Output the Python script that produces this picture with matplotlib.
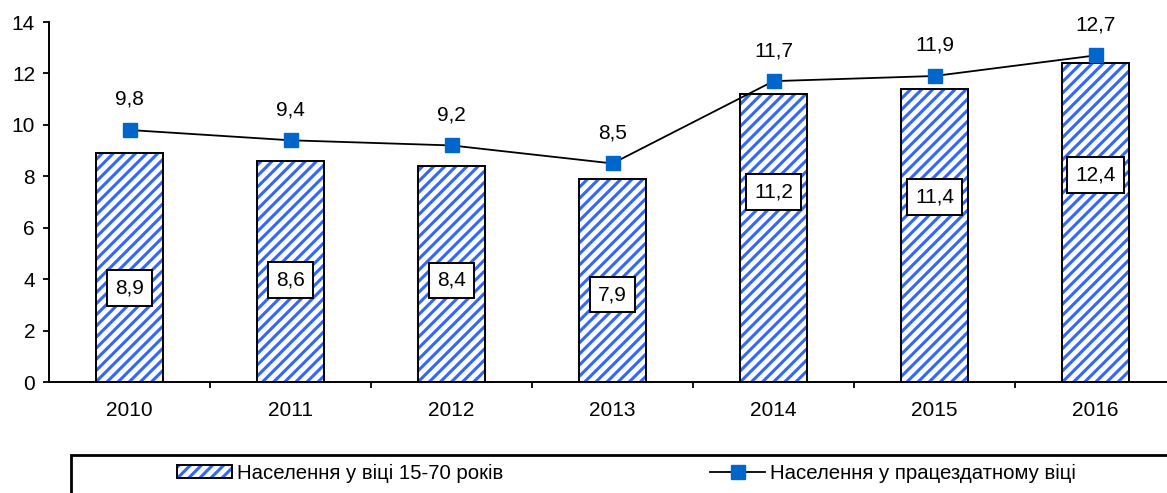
import matplotlib
matplotlib.use("Agg")
import matplotlib.pyplot as plt
from matplotlib.patches import Rectangle
from matplotlib.lines import Line2D
from matplotlib.ticker import FixedLocator

years = ["2010", "2011", "2012", "2013", "2014", "2015", "2016"]
pop_15_70 = [8.9, 8.6, 8.4, 7.9, 11.2, 11.4, 12.4]
pop_working = [9.8, 9.4, 9.2, 8.5, 11.7, 11.9, 12.7]
bar_name = "Населення у віці 15-70 років"
line_name = "Населення у працездатному віці"

# де стоять підписи в стовпчиках (частка висоти стовпчика)
label_frac = [0.41, 0.46, 0.47, 0.43, 0.66, 0.63, 0.65]

plt.rcParams['font.family'] = ['Liberation Sans', 'DejaVu Sans']
plt.rcParams['font.size'] = 15
plt.rcParams['hatch.linewidth'] = 2.2

fig = plt.figure(figsize=(11.67, 4.93), dpi=100)
ax = fig.add_axes([49 / 1167, 1 - 382 / 493, 1127 / 1167, 360 / 493])

x = list(range(len(years)))
blue = '#3366ff'
mblue = '#0066cc'
ax.bar(x, pop_15_70, width=0.41, color='white', edgecolor=blue, hatch='///', linewidth=0, zorder=2)
ax.bar(x, pop_15_70, width=0.41, fill=False, edgecolor='black', linewidth=1.4, zorder=3)

ax.plot(x, pop_working, color='black', linewidth=1.3, marker='s', markersize=10,
        markerfacecolor=mblue, markeredgecolor=mblue, zorder=4, clip_on=False)

for xi, v, f in zip(x, pop_15_70, label_frac):
    ax.text(xi, v * f, f"{v:.1f}".replace('.', ','), ha='center', va='center', zorder=5,
            bbox=dict(boxstyle='square,pad=0.4', facecolor='white', edgecolor='black', linewidth=1.4))
for xi, v in zip(x, pop_working):
    ax.annotate(f"{v:.1f}".replace('.', ','), (xi, v), xytext=(0, 22), textcoords='offset points',
                ha='center', va='center')

ax.set_xlim(-0.5, 6.5)
ax.set_ylim(0, 14)
ax.set_yticks(range(0, 15, 2))
ax.set_xticks(x)
ax.set_xticklabels(years)
ax.xaxis.set_minor_locator(FixedLocator([i + 0.5 for i in x]))
ax.tick_params(axis='x', which='major', length=0, pad=14)
ax.tick_params(axis='x', which='minor', length=4, width=1.3, direction='out')
ax.tick_params(axis='y', length=4, width=1.3, direction='out', pad=6)
for s in ['top', 'right']:
    ax.spines[s].set_visible(False)
for s in ['left', 'bottom']:
    ax.spines[s].set_linewidth(1.4)

# рамка легенди виходить за межі картинки
fig.patches.append(Rectangle((71 / 1167, -0.1), 1.1, 0.1 + 1 - 455 / 493, transform=fig.transFigure,
                             fill=False, edgecolor='black', linewidth=2, figure=fig))

h1a = Rectangle((0, 0), 1, 1, facecolor='white', edgecolor=blue, hatch='///', linewidth=0)
h1b = Rectangle((0, 0), 1, 1, fill=False, edgecolor='black', linewidth=1.4)
h2 = Line2D([], [], color='black', linewidth=1.3, marker='s', markersize=10,
            markerfacecolor=mblue, markeredgecolor=mblue)
leg_kw = dict(frameon=False, fontsize=14.7, loc='center left', borderpad=0, borderaxespad=0,
              handlelength=2.7, handleheight=0.6, handletextpad=0.25)
fig.legend([(h1a, h1b)], [bar_name], bbox_to_anchor=(177 / 1167, 1 - 473 / 493), **leg_kw)
fig.legend([h2], [line_name], bbox_to_anchor=(710 / 1167, 1 - 473 / 493), **leg_kw)

fig.savefig("out.png", dpi=100)
